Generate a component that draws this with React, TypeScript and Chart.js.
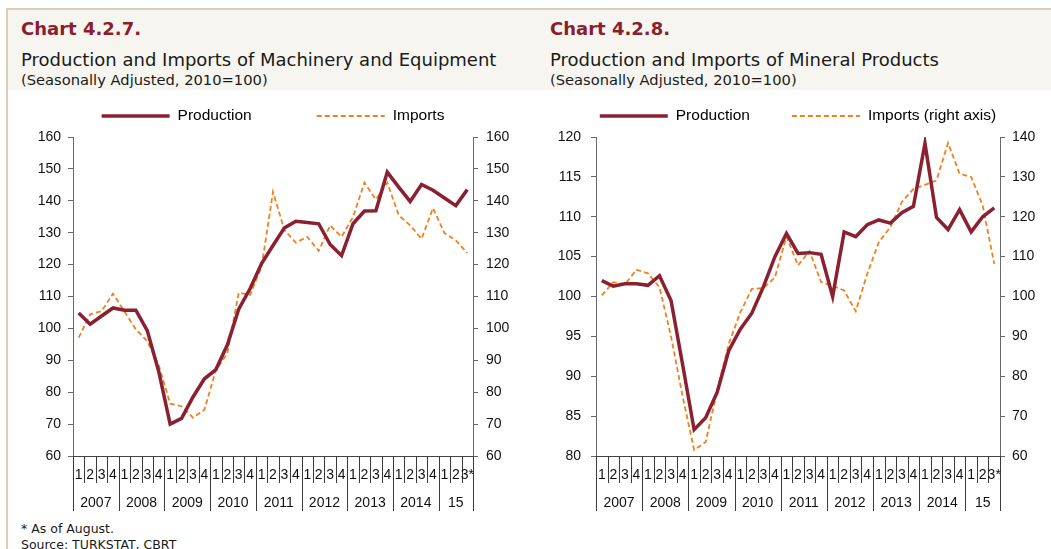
import React, { useEffect, useRef } from "react";
import { Chart, registerables } from "chart.js";

Chart.register(...registerables);

// ---------- data ----------
const quarterLabels = [
  "1", "2", "3", "4", "1", "2", "3", "4", "1", "2", "3", "4", "1", "2", "3", "4",
  "1", "2", "3", "4", "1", "2", "3", "4", "1", "2", "3", "4", "1", "2", "3", "4",
  "1", "2", "3*",
];
const yearLabels = ["2007", "2008", "2009", "2010", "2011", "2012", "2013", "2014", "15"];

const productionMachinery = [
  104.8, 101.3, 103.9, 106.4, 105.7, 105.7, 99.3, 86.5, 70.0, 71.8, 78.5, 84.2,
  87.1, 94.8, 106.0, 112.5, 120.3, 126.0, 131.5, 133.6, 133.2, 132.8, 126.3, 122.8,
  132.8, 136.8, 136.9, 149.0, 144.3, 139.8, 145.1, 143.3, 140.9, 138.5, 143.5,
];
const importsMachinery = [
  97.1, 104.4, 105.4, 110.9, 105.3, 99.7, 96.0, 88.5, 76.4, 75.6, 72.0, 74.5,
  86.9, 92.1, 111.2, 110.5, 119.3, 142.8, 130.8, 126.9, 128.7, 124.3, 132.3, 128.7,
  134.9, 145.7, 140.4, 145.7, 135.5, 132.3, 128.1, 137.7, 129.9, 127.6, 123.6,
];
const productionMineral = [
  102.0, 101.3, 101.6, 101.6, 101.4, 102.6, 99.5, 91.5, 83.3, 84.8, 88.0, 93.2,
  95.9, 97.9, 101.2, 105.0, 107.9, 105.4, 105.5, 105.3, 100.0, 108.1, 107.5, 109.0,
  109.6, 109.2, 110.5, 111.3, 119.2, 109.9, 108.4, 110.9, 108.1, 110.0, 111.1,
];
const importsMineral = [
  100.3, 103.6, 103.0, 106.7, 105.8, 102.3, 90.0, 75.0, 61.5, 63.5, 76.4, 88.1,
  96.0, 101.9, 102.1, 104.8, 115.0, 107.8, 111.4, 103.6, 102.7, 101.5, 96.3, 105.7,
  113.6, 117.4, 123.7, 127.0, 128.0, 129.1, 138.5, 130.8, 130.0, 122.8, 108.2,
];

const machineryAxis = [60, 160, 10];
const mineralLeftAxis = [80, 120, 5];
const mineralRightAxis = [60, 140, 10];

// ---------- styles ----------
const PROD_COLOR = "#8B2030";
const IMP_COLOR = "#F08020";
const AXIS_FONT = "'Liberation Sans', Arial, sans-serif";
const TITLE_FONT = "'DejaVu Sans', 'Open Sans', sans-serif";

const legendPlugin = {
  id: "lineLegend",
  afterDraw(chart: any, _a: any, opts: any) {
    const { ctx, chartArea } = chart;
    const ds = chart.data.datasets;
    ctx.save();
    ctx.font = `15.5px ${AXIS_FONT}`;
    const lineLen = 68;
    const textGap = 8;
    const gap = opts.gap;
    const widths = ds.map((d: any) => lineLen + textGap + ctx.measureText(d.label).width);
    const total = widths.reduce((a: number, b: number) => a + b, 0) + gap * (ds.length - 1);
    let x = (chartArea.left + chartArea.right) / 2 - total / 2;
    const y = opts.y;
    ds.forEach((d: any, i: number) => {
      ctx.beginPath();
      ctx.strokeStyle = d.borderColor;
      ctx.lineWidth = d.borderWidth;
      ctx.setLineDash(d.borderDash || []);
      ctx.moveTo(x, y);
      ctx.lineTo(x + lineLen, y);
      ctx.stroke();
      ctx.setLineDash([]);
      ctx.fillStyle = "#000";
      ctx.textBaseline = "middle";
      ctx.textAlign = "left";
      ctx.fillText(d.label, x + lineLen + textGap, y);
      x += widths[i] + gap;
    });
    ctx.restore();
  },
};

const quarterAxisPlugin = {
  id: "quarterAxis",
  afterDraw(chart: any) {
    const { ctx, chartArea } = chart;
    const xs = chart.scales.x;
    const labels: string[] = chart.data.labels;
    const n = labels.length;
    const px = (i: number) => xs.getPixelForValue(i);
    const half = (px(1) - px(0)) / 2;
    const bnd = (j: number) =>
      j === 0 ? px(0) - half : j === n ? px(n - 1) + half : (px(j - 1) + px(j)) / 2;
    const bottom = chartArea.bottom;
    ctx.save();
    ctx.strokeStyle = "#3a3a3a";
    ctx.lineWidth = 1;
    const yearStarts: number[] = [];
    for (let j = 0; j <= n; j++) {
      const isYear = j === 0 || j === n || labels[j] === "1";
      if (j < n && labels[j] === "1") yearStarts.push(j);
      const x = Math.round(bnd(j)) + 0.5;
      ctx.beginPath();
      ctx.moveTo(x, bottom);
      ctx.lineTo(x, bottom + (isYear ? 55 : 27));
      ctx.stroke();
    }
    ctx.fillStyle = "#111";
    ctx.textAlign = "center";
    ctx.textBaseline = "middle";
    ctx.font = `14px ${AXIS_FONT}`;
    for (let i = 0; i < n; i++) ctx.fillText(labels[i], px(i), bottom + 19);
    yearStarts.push(n);
    for (let k = 0; k < yearStarts.length - 1; k++) {
      const c = (bnd(yearStarts[k]) + bnd(yearStarts[k + 1])) / 2;
      ctx.fillText(yearLabels[k], c, bottom + 47);
    }
    ctx.restore();
  },
};

function yAxis(pos: string, range: number[], width: number, pad: number, fontSize: number) {
  return {
    type: "linear",
    position: pos,
    min: range[0],
    max: range[1],
    ticks: {
      stepSize: range[2],
      padding: pad,
      color: "#111",
      font: { family: AXIS_FONT, size: fontSize },
    },
    grid: { drawOnChartArea: false, drawTicks: true, tickLength: 5, tickColor: "#666" },
    border: { display: true, color: "#6a6a6a", width: 1 },
    afterFit: (s: any) => {
      s.width = width;
    },
  };
}

function makeConfig(
  prod: number[],
  imp: number[],
  impLabel: string,
  leftRange: number[],
  rightRange: number[],
  leftW: number,
  rightW: number,
  leftPad: number,
  rightPad: number,
  fontSize: number,
  gap: number
): any {
  return {
    type: "line",
    data: {
      labels: quarterLabels,
      datasets: [
        {
          label: "Production",
          data: prod,
          borderColor: PROD_COLOR,
          borderWidth: 3.5,
          pointRadius: 0,
          tension: 0,
          yAxisID: "y",
          order: 1,
        },
        {
          label: impLabel,
          data: imp,
          borderColor: IMP_COLOR,
          borderWidth: 1.8,
          borderDash: [5, 3],
          pointRadius: 0,
          tension: 0,
          yAxisID: "y2",
          order: 2,
        },
      ],
    },
    options: {
      responsive: false,
      animation: false,
      devicePixelRatio: 1,
      layout: { padding: { top: 42, left: 0, right: 0, bottom: 0 } },
      plugins: {
        legend: { display: false },
        tooltip: { enabled: false },
        lineLegend: { y: 21, gap },
      },
      scales: {
        x: {
          type: "category",
          offset: true,
          ticks: { display: false },
          grid: { display: false },
          border: { display: true, color: "#444", width: 1 },
          afterFit: (s: any) => {
            s.height = 59;
          },
        },
        y: yAxis("left", leftRange, leftW, leftPad, fontSize),
        y2: yAxis("right", rightRange, rightW, rightPad, fontSize),
      },
    },
    plugins: [legendPlugin, quarterAxisPlugin],
  };
}

function ChartCanvas({ config, left }: { config: any; left: number }) {
  const ref = useRef<HTMLCanvasElement | null>(null);
  useEffect(() => {
    if (!ref.current) return;
    const chart = new Chart(ref.current, config);
    return () => chart.destroy();
  }, [config]);
  return (
    <canvas
      ref={ref}
      width={515}
      height={420}
      style={{ position: "absolute", left, top: 95, width: 515, height: 420 }}
    />
  );
}

const configMachinery = makeConfig(
  productionMachinery,
  importsMachinery,
  "Imports",
  machineryAxis,
  machineryAxis,
  65,
  50,
  7,
  8,
  14,
  65
);
const configMineral = makeConfig(
  productionMineral,
  importsMineral,
  "Imports (right axis)",
  mineralLeftAxis,
  mineralRightAxis,
  66,
  45,
  10,
  7,
  14,
  42
);

const titleStyle: React.CSSProperties = {
  position: "absolute",
  fontFamily: TITLE_FONT,
  fontWeight: "bold",
  fontSize: 18,
  color: "#8B1E2E",
  lineHeight: "22px",
  whiteSpace: "nowrap",
};
const subStyle: React.CSSProperties = {
  position: "absolute",
  fontFamily: TITLE_FONT,
  fontSize: 18,
  color: "#1a1a1a",
  lineHeight: "20px",
  whiteSpace: "nowrap",
};
const smallStyle: React.CSSProperties = {
  position: "absolute",
  fontFamily: TITLE_FONT,
  fontSize: 14.7,
  color: "#1a1a1a",
  lineHeight: "16px",
  whiteSpace: "nowrap",
};

export default function App() {
  return (
    <div
      style={{
        position: "fixed",
        left: 0,
        top: 0,
        width: 1051,
        height: 549,
        background: "#fff",
        overflow: "hidden",
      }}
    >
      <div
        style={{
          position: "absolute",
          left: 6,
          top: 8,
          width: 1051,
          height: 560,
          borderTop: "2px solid #D9CFB6",
          borderLeft: "2px solid #D9CFB6",
        }}
      />
      <div
        style={{ position: "absolute", left: 8, top: 10, width: 1043, height: 80, background: "#F6F5F0" }}
      />
      <div style={{ ...titleStyle, left: 21, top: 18 }}>Chart 4.2.7.</div>
      <div style={{ ...subStyle, left: 21, top: 50 }}>Production and Imports of Machinery and Equipment</div>
      <div style={{ ...smallStyle, left: 21, top: 72 }}>(Seasonally Adjusted, 2010=100)</div>

      <div style={{ ...titleStyle, left: 550, top: 18 }}>Chart 4.2.8.</div>
      <div style={{ ...subStyle, left: 550, top: 50 }}>Production and Imports of Mineral Products</div>
      <div style={{ ...smallStyle, left: 550, top: 72 }}>(Seasonally Adjusted, 2010=100)</div>

      <ChartCanvas config={configMachinery} left={8} />
      <ChartCanvas config={configMineral} left={530} />

      <div style={{ ...smallStyle, fontSize: 12.5, left: 21, top: 521 }}>* As of August.</div>
      <div style={{ ...smallStyle, fontSize: 12.5, left: 21, top: 537 }}>Source: TURKSTAT, CBRT</div>
    </div>
  );
}
